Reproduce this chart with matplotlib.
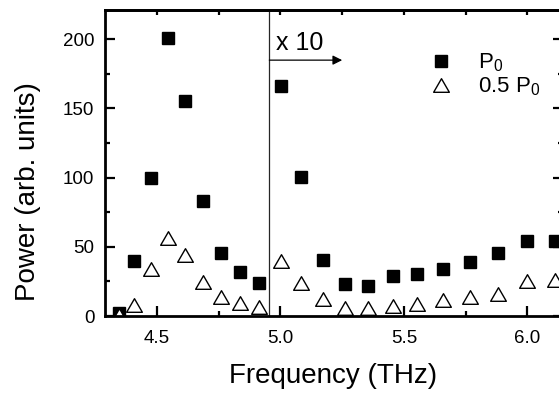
import matplotlib
matplotlib.use("Agg")
import matplotlib.pyplot as plt
from matplotlib.ticker import MultipleLocator
from matplotlib.path import Path

plt.rcParams['font.family'] = ['Liberation Sans', 'DejaVu Sans']
plt.rcParams['mathtext.fontset'] = 'custom'
plt.rcParams['mathtext.rm'] = 'Liberation Sans'
plt.rcParams['mathtext.it'] = 'Liberation Sans'

freq = [4.345, 4.407, 4.475, 4.543, 4.613, 4.685, 4.759, 4.836, 4.915, 5.001,
        5.082, 5.171, 5.263, 5.355, 5.454, 5.555, 5.660, 5.768, 5.882, 6.000, 6.112]
p_full = [2, 40, 100, 200.5, 155, 83.4, 45.4, 31.6, 23.7, 166,
          100.5, 40.8, 22.8, 21.8, 29, 30.7, 33.8, 39.1, 45.2, 54, 54]
p_half = [1, 8, 33.8, 56.3, 44.2, 24.4, 13.5, 9.6, 6.3, 39.8,
          24.2, 12.1, 6.1, 6.1, 7.1, 9, 11.4, 13.8, 15.8, 25.1, 25.9]
labels = ['P$_0$', '0.5 P$_0$']
divider_x = 4.955
annot_text = 'x 10'

fig = plt.figure(figsize=(5.59, 3.96), dpi=100)
ax = fig.add_axes([0.1885, 0.202, 0.819, 0.7727])

tri = Path([(0, 0.433), (-0.5, -0.433), (0.5, -0.433), (0, 0.433)], closed=True)
ax.plot(freq, p_full, linestyle='none', marker='s', markersize=8.8,
        color='black', label=labels[0])
ax.plot(freq, p_half, linestyle='none', marker=tri, markersize=11.3,
        markerfacecolor='white', markeredgecolor='black', markeredgewidth=1.0,
        label=labels[1])

ax.set_xlim(4.291, 6.145)
ax.set_ylim(0, 221)

ax.axvline(divider_x, color='0.15', lw=0.9)
ax.annotate('', xy=(5.25, 184.8), xytext=(divider_x, 184.8),
            arrowprops=dict(arrowstyle='-|>', color='black', lw=0.9,
                            mutation_scale=14, shrinkA=0, shrinkB=0))
ax.text(4.983, 197, annot_text, fontsize=18, ha='left', va='center')

ax.xaxis.set_major_locator(MultipleLocator(0.5))
ax.xaxis.set_minor_locator(MultipleLocator(0.25))
ax.yaxis.set_major_locator(MultipleLocator(50))
ax.yaxis.set_minor_locator(MultipleLocator(25))
ax.set_xticks([4.5, 5.0, 5.5, 6.0])
ax.set_xticklabels(['4.5', '5.0', '5.5', '6.0'])

ax.tick_params(which='both', direction='in', width=1.6, labelsize=13.5,
               top=False, right=True)
ax.tick_params(axis='x', pad=10)
ax.tick_params(axis='y', pad=8)
ax.tick_params(which='major', length=7.2)
ax.tick_params(which='minor', length=3.6)

sec = ax.secondary_xaxis('top')
sec.xaxis.set_major_locator(MultipleLocator(0.25))
sec.tick_params(which='both', direction='in', length=3.6, width=1.6, labeltop=False)
sec.spines['top'].set_linewidth(2)

for s in ax.spines.values():
    s.set_linewidth(2)

ax.set_xlabel('Frequency (THz)', fontsize=20)
ax.xaxis.set_label_coords(0.4965, -0.152)
ax.set_ylabel('Power (arb. units)', fontsize=20)
ax.yaxis.set_label_coords(-0.141, 0.408)

ax.legend(loc='upper left', bbox_to_anchor=(0.6935, 0.865), frameon=False,
          fontsize=16, handlelength=1.6, handletextpad=0.9,
          labelspacing=0.07, borderpad=0, borderaxespad=0)

fig.savefig('out.png', dpi=100)
